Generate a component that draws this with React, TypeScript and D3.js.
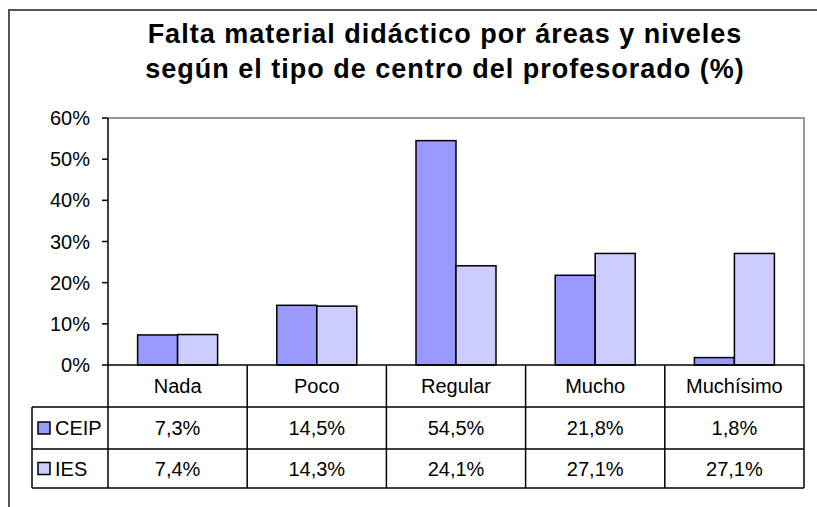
import * as d3 from "d3";

const categories = ["Nada", "Poco", "Regular", "Mucho", "Muchísimo"];
const seriesNames = ["CEIP", "IES"];
const ceipValues = [7.3, 14.5, 54.5, 21.8, 1.8];
const iesValues = [7.4, 14.3, 24.1, 27.1, 27.1];
const yTicks = [0, 10, 20, 30, 40, 50, 60];
const titleLines = [
  "Falta material didáctico por áreas y niveles",
  "según el tipo de centro del profesorado (%)",
];

const COLORS = ["#9999ff", "#ccccff"];
const FONT = "'Liberation Sans', Arial, sans-serif";

const esLocale = d3.formatLocale({
  decimal: ",",
  thousands: ".",
  grouping: [3],
  currency: ["", " €"],
});
const fmtValue = (v: number) => esLocale.format(".1f")(v) + "%";

export default function App() {
  const width = 817;
  const height = 507;

  const plot = { left: 108, right: 804, top: 118, bottom: 365 };
  const rowHeader = 407;
  const rowCeip = 449;
  const rowIes = 488;
  const legendLeft = 32;

  const series = [ceipValues, iesValues];

  const x = d3
    .scaleBand<string>()
    .domain(categories)
    .range([plot.left, plot.right])
    .paddingInner(0)
    .paddingOuter(0);

  const xInner = d3
    .scaleBand<string>()
    .domain(seriesNames)
    .range([0, x.bandwidth()])
    .paddingInner(0)
    .paddingOuter(0.74);

  const y = d3.scaleLinear().domain([0, 60]).range([plot.bottom, plot.top]);

  const rowCenters = [
    (plot.bottom + rowHeader) / 2,
    (rowHeader + rowCeip) / 2,
    (rowCeip + rowIes) / 2,
  ];

  return (
    <svg
      width={width}
      height={height}
      style={{ position: "absolute", left: 0, top: 0, background: "#fff" }}
      fontFamily={FONT}
    >
      {/* outer frame, runs past the picture */}
      <rect x={9} y={10} width={900} height={600} fill="#fff" stroke="#555" strokeWidth={2} />

      {/* title */}
      {titleLines.map((t, i) => (
        <text
          key={t}
          x={445}
          y={43 + i * 35}
          textAnchor="middle"
          fontSize={27}
          fontWeight="bold"
          letterSpacing={1}
          fill="#000"
        >
          {t}
        </text>
      ))}

      {/* plot area border */}
      <path
        d={`M${plot.left},${plot.top}H${plot.right}V${plot.bottom}`}
        fill="none"
        stroke="#999"
        strokeWidth={2}
      />

      {/* bars */}
      {series.map((vals, si) =>
        vals.map((v, ci) => (
          <rect
            key={`${si}-${ci}`}
            x={x(categories[ci])! + xInner(seriesNames[si])!}
            y={y(v)}
            width={xInner.bandwidth()}
            height={y(0) - y(v)}
            fill={COLORS[si]}
            stroke="#000"
            strokeWidth={1.5}
          />
        ))
      )}

      {/* y axis */}
      <line x1={plot.left} x2={plot.left} y1={plot.top} y2={rowIes} stroke="#000" strokeWidth={1.5} />
      {yTicks.map((t) => (
        <g key={t}>
          <line x1={plot.left - 6} x2={plot.left} y1={y(t)} y2={y(t)} stroke="#000" strokeWidth={1.5} />
          <text
            x={90}
            y={y(t)}
            dy="0.35em"
            textAnchor="end"
            fontSize={20}
            fill="#000"
          >
            {t}%
          </text>
        </g>
      ))}

      {/* data table */}
      <line x1={plot.left} x2={plot.right} y1={plot.bottom} y2={plot.bottom} stroke="#000" strokeWidth={1.5} />
      {[rowHeader, rowCeip, rowIes].map((ry) => (
        <line key={ry} x1={legendLeft} x2={plot.right} y1={ry} y2={ry} stroke="#000" strokeWidth={1.5} />
      ))}
      <line x1={legendLeft} x2={legendLeft} y1={rowHeader} y2={rowIes} stroke="#000" strokeWidth={1.5} />
      {categories.map((c) => (
        <line
          key={c}
          x1={x(c)! + x.bandwidth()}
          x2={x(c)! + x.bandwidth()}
          y1={plot.bottom}
          y2={rowIes}
          stroke="#000"
          strokeWidth={1.5}
        />
      ))}

      {categories.map((c) => (
        <text
          key={c}
          x={x(c)! + x.bandwidth() / 2}
          y={rowCenters[0]}
          dy="0.35em"
          textAnchor="middle"
          fontSize={20}
          fill="#000"
        >
          {c}
        </text>
      ))}

      {series.map((vals, si) => (
        <g key={seriesNames[si]}>
          <rect
            x={38}
            y={rowCenters[si + 1] - 6}
            width={12}
            height={12}
            fill={COLORS[si]}
            stroke="#000"
            strokeWidth={1.5}
          />
          <text x={55} y={rowCenters[si + 1]} dy="0.35em" fontSize={20} fill="#000">
            {seriesNames[si]}
          </text>
          {vals.map((v, ci) => (
            <text
              key={ci}
              x={x(categories[ci])! + x.bandwidth() / 2}
              y={rowCenters[si + 1]}
              dy="0.35em"
              textAnchor="middle"
              fontSize={20}
              fill="#000"
            >
              {fmtValue(v)}
            </text>
          ))}
        </g>
      ))}
    </svg>
  );
}
